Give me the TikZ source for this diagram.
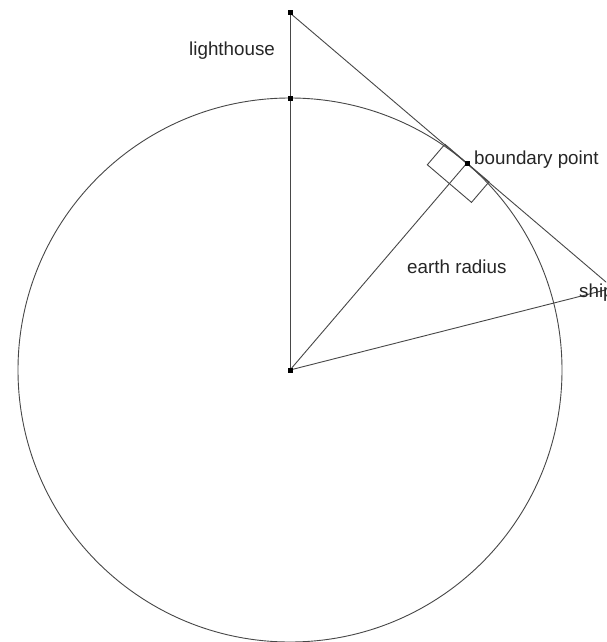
\documentclass[tikz,border=0pt]{standalone}
\usepackage{fontspec}
\setmainfont{Liberation Sans}
\usetikzlibrary{calc}
\begin{document}
\begin{tikzpicture}[x=1pt,y=-1pt,
  ln/.style={draw=black!72,line width=0.9pt},
  dot/.style={rectangle,fill=black,inner sep=0pt,minimum size=5pt},
  lbl/.style={anchor=base west,inner sep=0pt,text=black!85,font=\fontsize{18.8}{22}\selectfont}]
\useasboundingbox (0,0) rectangle (606,642);
\clip (0,0) rectangle (606,642);
\fill[white] (0,0) rectangle (606,642);
\coordinate (C) at (290,370);
\coordinate (L) at (290,13);
\coordinate (T) at (290,98);
\coordinate (B) at (467,163);
\coordinate (S) at (613,288);
% earth
\draw[ln] (C) circle[radius=272];
% lines
\draw[ln] (L) -- (C);
\draw[ln] (L) -- (S);
\draw[ln] (C) -- (B);
\draw[ln] (C) -- (S);
% right angle mark
\coordinate (P1) at ($(B)!29pt!(L)$);
\coordinate (P2) at ($(B)!29pt!(S)$);
\coordinate (N) at ($(B)!27pt!(C)$);
\coordinate (P3) at ($(P2)+(N)-(B)$);
\coordinate (P4) at ($(P1)+(N)-(B)$);
\draw[ln] (P1) -- (P2) -- (P3) -- (P4) -- cycle;
% points
\node[dot] (dL) at (L) {};
\node[dot] (dT) at (T) {};
\node[dot] (dB) at (B) {};
\node[dot] (dC) at (C) {};
% labels
\node[lbl] (tL) at (189,56) {lighthouse};
\node[lbl] (tB) at (474,164) {boundary point};
\node[lbl] (tR) at (407,273) {earth radius};
\node[lbl] (tS) at (579,297) {ship};
\end{tikzpicture}
\end{document}
